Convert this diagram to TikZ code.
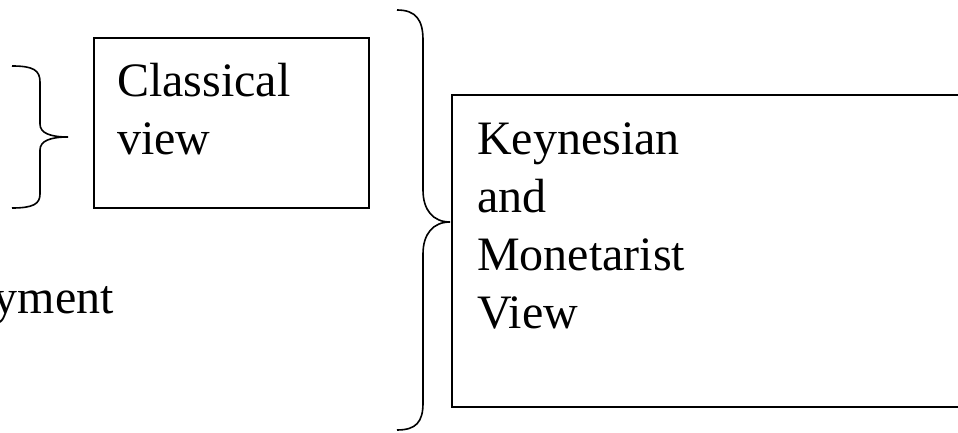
\documentclass[tikz,border=0pt]{standalone}
\usepackage{fontspec}
\setmainfont{Liberation Serif}
\begin{document}
\begin{tikzpicture}[x=1pt,y=-1pt,
  viewbox/.style={draw=black,line width=2pt,inner sep=0pt,outer sep=0pt},
  bigtext/.style={inner sep=0pt,anchor=base west,font=\fontsize{48}{58}\selectfont},
  bracepath/.style={draw=black,line width=1.6pt}]
\useasboundingbox (0,0) rectangle (958,433);
% boxes
\node[viewbox,minimum width=275pt,minimum height=170pt] (classBox) at (231.5,123) {};
\node[viewbox,minimum width=548pt,minimum height=312pt] (keyBox) at (726,251) {};
% texts
\node[bigtext] (classText) at (117,97) {\parbox[t]{240pt}{\raggedright Classical\\view}};
\node[bigtext] (keyText) at (477,154) {\parbox[t]{400pt}{\raggedright Keynesian\\and\\Monetarist\\View}};
\node[inner sep=0pt,anchor=base east,font=\fontsize{48}{58}\selectfont] (cutText) at (114,313) {yment};
% small brace
\coordinate (smallTip) at (68,137);
\draw[bracepath] (12,66) .. controls (33,66) and (40,70) .. (40,82) -- (40,124)
  .. controls (40,133) and (50,137) .. (smallTip)
  .. controls (50,137) and (40,141) .. (40,150) -- (40,194)
  .. controls (40,204) and (33,208) .. (12,208);
% big brace
\coordinate (bigTip) at (450,222);
\draw[bracepath] (397,10) .. controls (416,10) and (423,20) .. (423,40) -- (423,190)
  .. controls (423,210) and (433,222) .. (bigTip)
  .. controls (433,222) and (423,234) .. (423,254) -- (423,403)
  .. controls (423,422) and (416,430) .. (397,430);
\end{tikzpicture}
\end{document}
